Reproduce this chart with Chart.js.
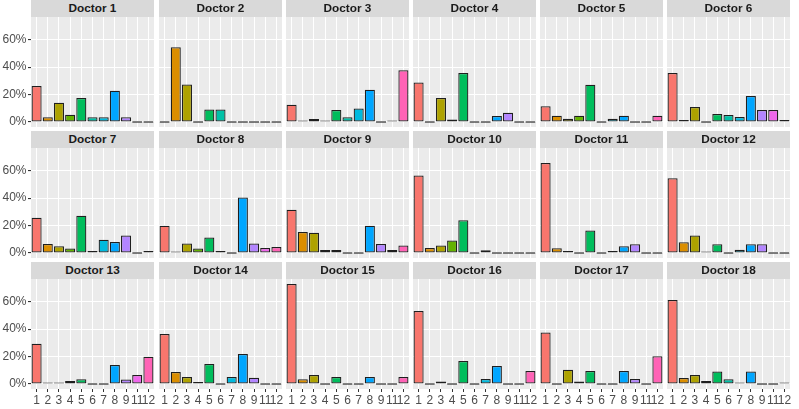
<!DOCTYPE html>
<html><head><meta charset="utf-8">
<script src="https://cdn.jsdelivr.net/npm/chart.js@4.4.0/dist/chart.umd.min.js"></script>
<style>
html,body{margin:0;padding:0;background:#fff;width:799px;height:409px;overflow:hidden;}
#wrap{position:relative;width:799px;height:409px;}
#wrap canvas{position:absolute;}
.strip{position:absolute;background:#D9D9D9;color:#1A1A1A;font:bold 11.8px "Liberation Sans",Arial,sans-serif;text-align:center;z-index:5;white-space:nowrap;}
</style></head><body><div id="wrap"></div>
<script>
// ---- data ----
const categories = ['1','2','3','4','5','6','7','8','9','11','12'];
const panelTitles = ['Doctor 1','Doctor 2','Doctor 3','Doctor 4','Doctor 5','Doctor 6',
  'Doctor 7','Doctor 8','Doctor 9','Doctor 10','Doctor 11','Doctor 12',
  'Doctor 13','Doctor 14','Doctor 15','Doctor 16','Doctor 17','Doctor 18'];
const doctor1  = [26.3, 3.5, 14.0, 5.3, 17.5, 3.5, 3.5, 22.8, 3.5, 0, 0];
const doctor2  = [0, 54.5, 27.3, 0, 9.1, 9.1, 0, 0, 0, 0, 0];
const doctor3  = [12.5, 0.7, 2.2, 0.7, 8.7, 3.4, 9.9, 23.5, 0, 0.7, 37.7];
const doctor4  = [28.9, 0, 17.5, 1.9, 35.7, 0, 0, 4.4, 6.8, 0, 0];
const doctor5  = [11.4, 4.6, 2.4, 4.6, 27.2, 0, 2.4, 4.6, 0, 0, 4.6];
const doctor6  = [35.7, 1.5, 10.9, 0, 5.8, 5.1, 3.6, 19.0, 8.7, 8.7, 1.5];
const doctor7  = [25.7, 6.6, 4.9, 3.2, 27.2, 1.5, 9.6, 8.1, 12.7, 0, 1.5];
const doctor8  = [19.8, 1.0, 6.9, 3.2, 11.3, 1.5, 0, 40.4, 6.9, 3.7, 4.4];
const doctor9  = [31.6, 15.4, 14.7, 2.2, 2.2, 0, 0, 19.8, 6.6, 2.2, 5.4];
const doctor10 = [56.6, 3.7, 5.4, 9.1, 23.8, 0, 2.0, 0, 0, 0, 0];
const doctor11 = [65.6, 3.4, 1.5, 0, 16.4, 0, 1.5, 4.9, 6.4, 0, 0];
const doctor12 = [54.6, 7.8, 12.7, 1.0, 6.4, 0, 2.4, 6.4, 6.4, 0, 0];
const doctor13 = [29.4, 0.7, 0.7, 2.2, 3.4, 0, 0, 13.8, 3.2, 6.6, 19.9];
const doctor14 = [36.4, 8.7, 5.1, 1.5, 14.6, 0, 5.1, 21.9, 4.6, 0, 0];
const doctor15 = [72.9, 3.4, 6.6, 0, 5.1, 0, 0, 5.1, 0, 0, 5.1];
const doctor16 = [53.2, 0, 1.9, 0, 16.8, 0, 3.6, 13.1, 0, 0, 9.5];
const doctor17 = [37.6, 0, 10.4, 1.9, 9.5, 0, 0, 9.5, 3.6, 0, 20.2];
const doctor18 = [61.2, 4.4, 6.6, 2.2, 9.2, 3.4, 0.7, 9.2, 0, 0, 0.7];
const yMajorTicks = [0, 20, 40, 60];
const yMinorTicks = [10, 30, 50, 70];

const panelValues = [doctor1,doctor2,doctor3,doctor4,doctor5,doctor6,doctor7,doctor8,doctor9,
  doctor10,doctor11,doctor12,doctor13,doctor14,doctor15,doctor16,doctor17,doctor18];

// ---- style ----
const palette = ['#F8766D','#DB8E00','#AEA200','#64B200','#00BD5C','#00C1A7','#00BADE','#00A6FF','#B385FF','#EF67EB','#FF63B6'];
const FONT = '"Liberation Sans", Arial, sans-serif';
const colLeft = [31, 159, 286, 413, 540, 667];
const rowTop = [17, 148, 279];
const PW = 123, PH = 110, YAXW = 31, XAXH = 18, PADT = 10, PADR = 10;
const yMin = -3.65, yMax = 76.6;
const allYTicks = [...yMajorTicks, ...yMinorTicks].sort((a,b)=>a-b);
const TRANSP = 'rgba(0,0,0,0)';

const bgPlugin = {
  id: 'panelBg',
  beforeDraw(chart) {
    const {ctx, chartArea: a} = chart;
    ctx.save();
    ctx.fillStyle = '#EBEBEB';
    ctx.fillRect(a.left, a.top, a.right - a.left, a.bottom - a.top);
    ctx.restore();
  }
};

const wrap = document.getElementById('wrap');
panelValues.forEach((vals, i) => {
  const r = Math.floor(i / 6), c = i % 6;
  const strip = document.createElement('div');
  strip.className = 'strip';
  strip.style.left = colLeft[c] + 'px';
  strip.style.top = (rowTop[r] - 17) + 'px';
  strip.style.width = PW + 'px';
  strip.style.height = '17px';
  strip.style.lineHeight = '17px';
  strip.textContent = panelTitles[i];
  wrap.appendChild(strip);

  const cv = document.createElement('canvas');
  const W = YAXW + PW + PADR, H = PADT + PH + XAXH;
  cv.width = W; cv.height = H;
  cv.style.left = (colLeft[c] - YAXW) + 'px';
  cv.style.top = (rowTop[r] - PADT) + 'px';
  cv.style.width = W + 'px'; cv.style.height = H + 'px';
  wrap.appendChild(cv);

  const showX = r === 2, showY = c === 0;
  new Chart(cv, {
    type: 'bar',
    data: {
      labels: categories,
      datasets: [{
        data: vals,
        backgroundColor: palette,
        borderColor: '#1F1F1F',
        borderWidth: 1.25,
        borderSkipped: false,
        barPercentage: 0.9,
        categoryPercentage: 1.0,
        minBarLength: 1.6
      }]
    },
    options: {
      responsive: false,
      animation: false,
      devicePixelRatio: 1,
      layout: { padding: { top: PADT, right: PADR, left: 0, bottom: 0 } },
      plugins: { legend: { display: false }, tooltip: { enabled: false }, title: { display: false } },
      scales: {
        x: {
          type: 'category',
          offset: true,
          border: { display: false },
          grid: { offset: false, color: '#FFFFFF', lineWidth: 1, drawTicks: true, tickLength: 3,
                  tickColor: showX ? '#333333' : TRANSP },
          ticks: { color: showX ? '#4D4D4D' : TRANSP, font: { family: FONT, size: 12 },
                   padding: 1, autoSkip: false, maxRotation: 0, minRotation: 0 },
          afterFit(s) { s.height = XAXH; }
        },
        y: {
          type: 'linear',
          min: yMin, max: yMax,
          border: { display: false },
          afterBuildTicks(s) { s.ticks = allYTicks.map(v => ({ value: v })); },
          grid: {
            color: '#FFFFFF',
            lineWidth: ctx => (ctx.tick && yMajorTicks.includes(ctx.tick.value)) ? 1.1 : 0.5,
            drawTicks: true, tickLength: 3,
            tickColor: ctx => (showY && ctx.tick && yMajorTicks.includes(ctx.tick.value)) ? '#333333' : TRANSP
          },
          ticks: {
            color: showY ? '#4D4D4D' : TRANSP,
            font: { family: FONT, size: 12 },
            padding: 1.5,
            callback: v => yMajorTicks.includes(v) ? v + '%' : ''
          },
          afterFit(s) { s.width = YAXW; }
        }
      }
    },
    plugins: [bgPlugin]
  });
});
</script>
</body></html>
